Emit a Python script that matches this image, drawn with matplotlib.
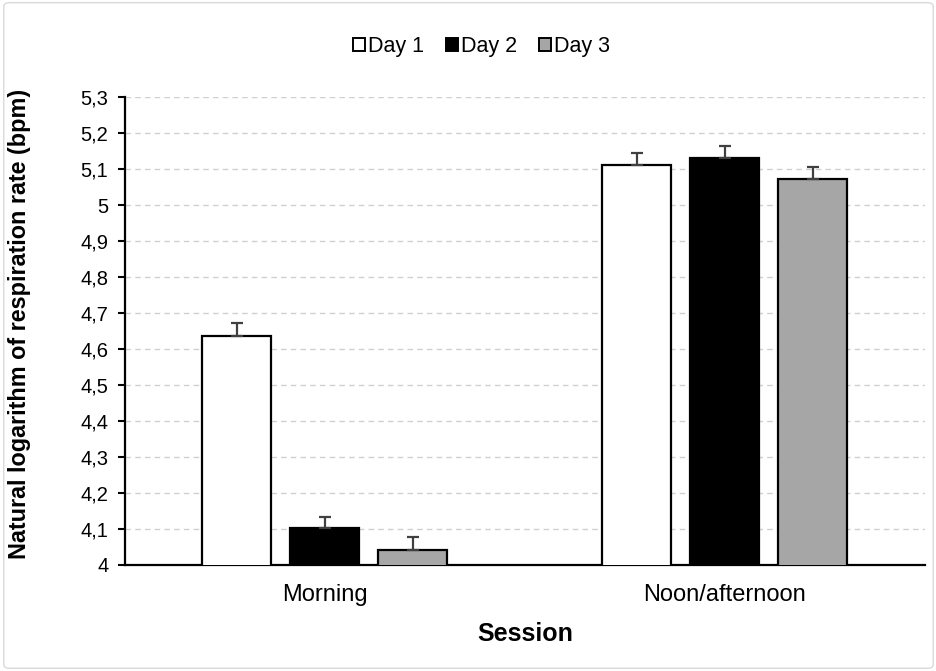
import matplotlib
matplotlib.use("Agg")
import matplotlib.pyplot as plt
import numpy as np
from matplotlib.patches import FancyBboxPatch
from matplotlib.ticker import FuncFormatter, MultipleLocator

plt.rcParams['font.family'] = ['Liberation Sans', 'DejaVu Sans']

sessions = ["Morning", "Noon/afternoon"]
days = ["Day 1", "Day 2", "Day 3"]
means = {
    "Day 1": [4.636, 5.111],
    "Day 2": [4.102, 5.131],
    "Day 3": [4.043, 5.072],
}
errors = {
    "Day 1": [0.036, 0.034],
    "Day 2": [0.032, 0.034],
    "Day 3": [0.034, 0.034],
}
colors = {"Day 1": "#ffffff", "Day 2": "#000000", "Day 3": "#a6a6a6"}

fig = plt.figure(figsize=(9.37, 6.71), dpi=100)
ax = fig.add_axes([0.1334, 0.158, 0.8536, 0.6974])

# chart-area border
fig.patches.append(FancyBboxPatch((0.004, 0.004), 0.992, 0.992,
                                  boxstyle="round,pad=0,rounding_size=0.006",
                                  transform=fig.transFigure, fill=False,
                                  edgecolor="#d9d9d9", linewidth=1.0))

x = np.arange(len(sessions))
width = 0.1725
offsets = [-0.22, 0.0, 0.22]
for d, off in zip(days, offsets):
    err = errors[d]
    ax.bar(x + off, means[d], width, bottom=0, color=colors[d],
           edgecolor="#000000", linewidth=1.6, label=d, zorder=3)
    ax.errorbar(x + off, means[d], yerr=[np.zeros(len(err)), err], fmt="none",
                ecolor="#404040", elinewidth=1.6, capsize=4, capthick=1.6, zorder=4)

ax.set_ylim(4, 5.3)
ax.set_xlim(-0.5, 1.5)
ax.yaxis.set_major_locator(MultipleLocator(0.1))
ax.yaxis.set_major_formatter(FuncFormatter(lambda v, p: ("%g" % round(v, 1)).replace(".", ",")))
ax.set_xticks(x)
ax.set_xticklabels(sessions)
ax.tick_params(axis="x", length=0, labelsize=17, pad=14)
ax.tick_params(axis="y", length=5, width=1.5, labelsize=14.5, direction="out", pad=7)

ax.grid(axis="y", linestyle=(0, (4, 3)), color="#d0d0d0", linewidth=1, zorder=0)
ax.set_axisbelow(True)
for s in ["top", "right"]:
    ax.spines[s].set_visible(False)
for s in ["left", "bottom"]:
    ax.spines[s].set_linewidth(1.6)
    ax.spines[s].set_color("#000000")

ax.set_xlabel("Session", fontsize=18, fontweight="bold", labelpad=11)
ax.set_ylabel("Natural logarithm of respiration rate (bpm)", fontsize=16.8,
              fontweight="bold")
ax.yaxis.set_label_coords(-0.1175, 0.516)

leg = fig.legend(loc="center", bbox_to_anchor=(0.514, 0.93), ncol=3, frameon=False,
                 fontsize=15.5, handlelength=0.55, handleheight=0.55,
                 handletextpad=0.15, columnspacing=1.0)
for h in leg.legend_handles:
    h.set_linewidth(1.4)

fig.savefig("out.png", dpi=100)
